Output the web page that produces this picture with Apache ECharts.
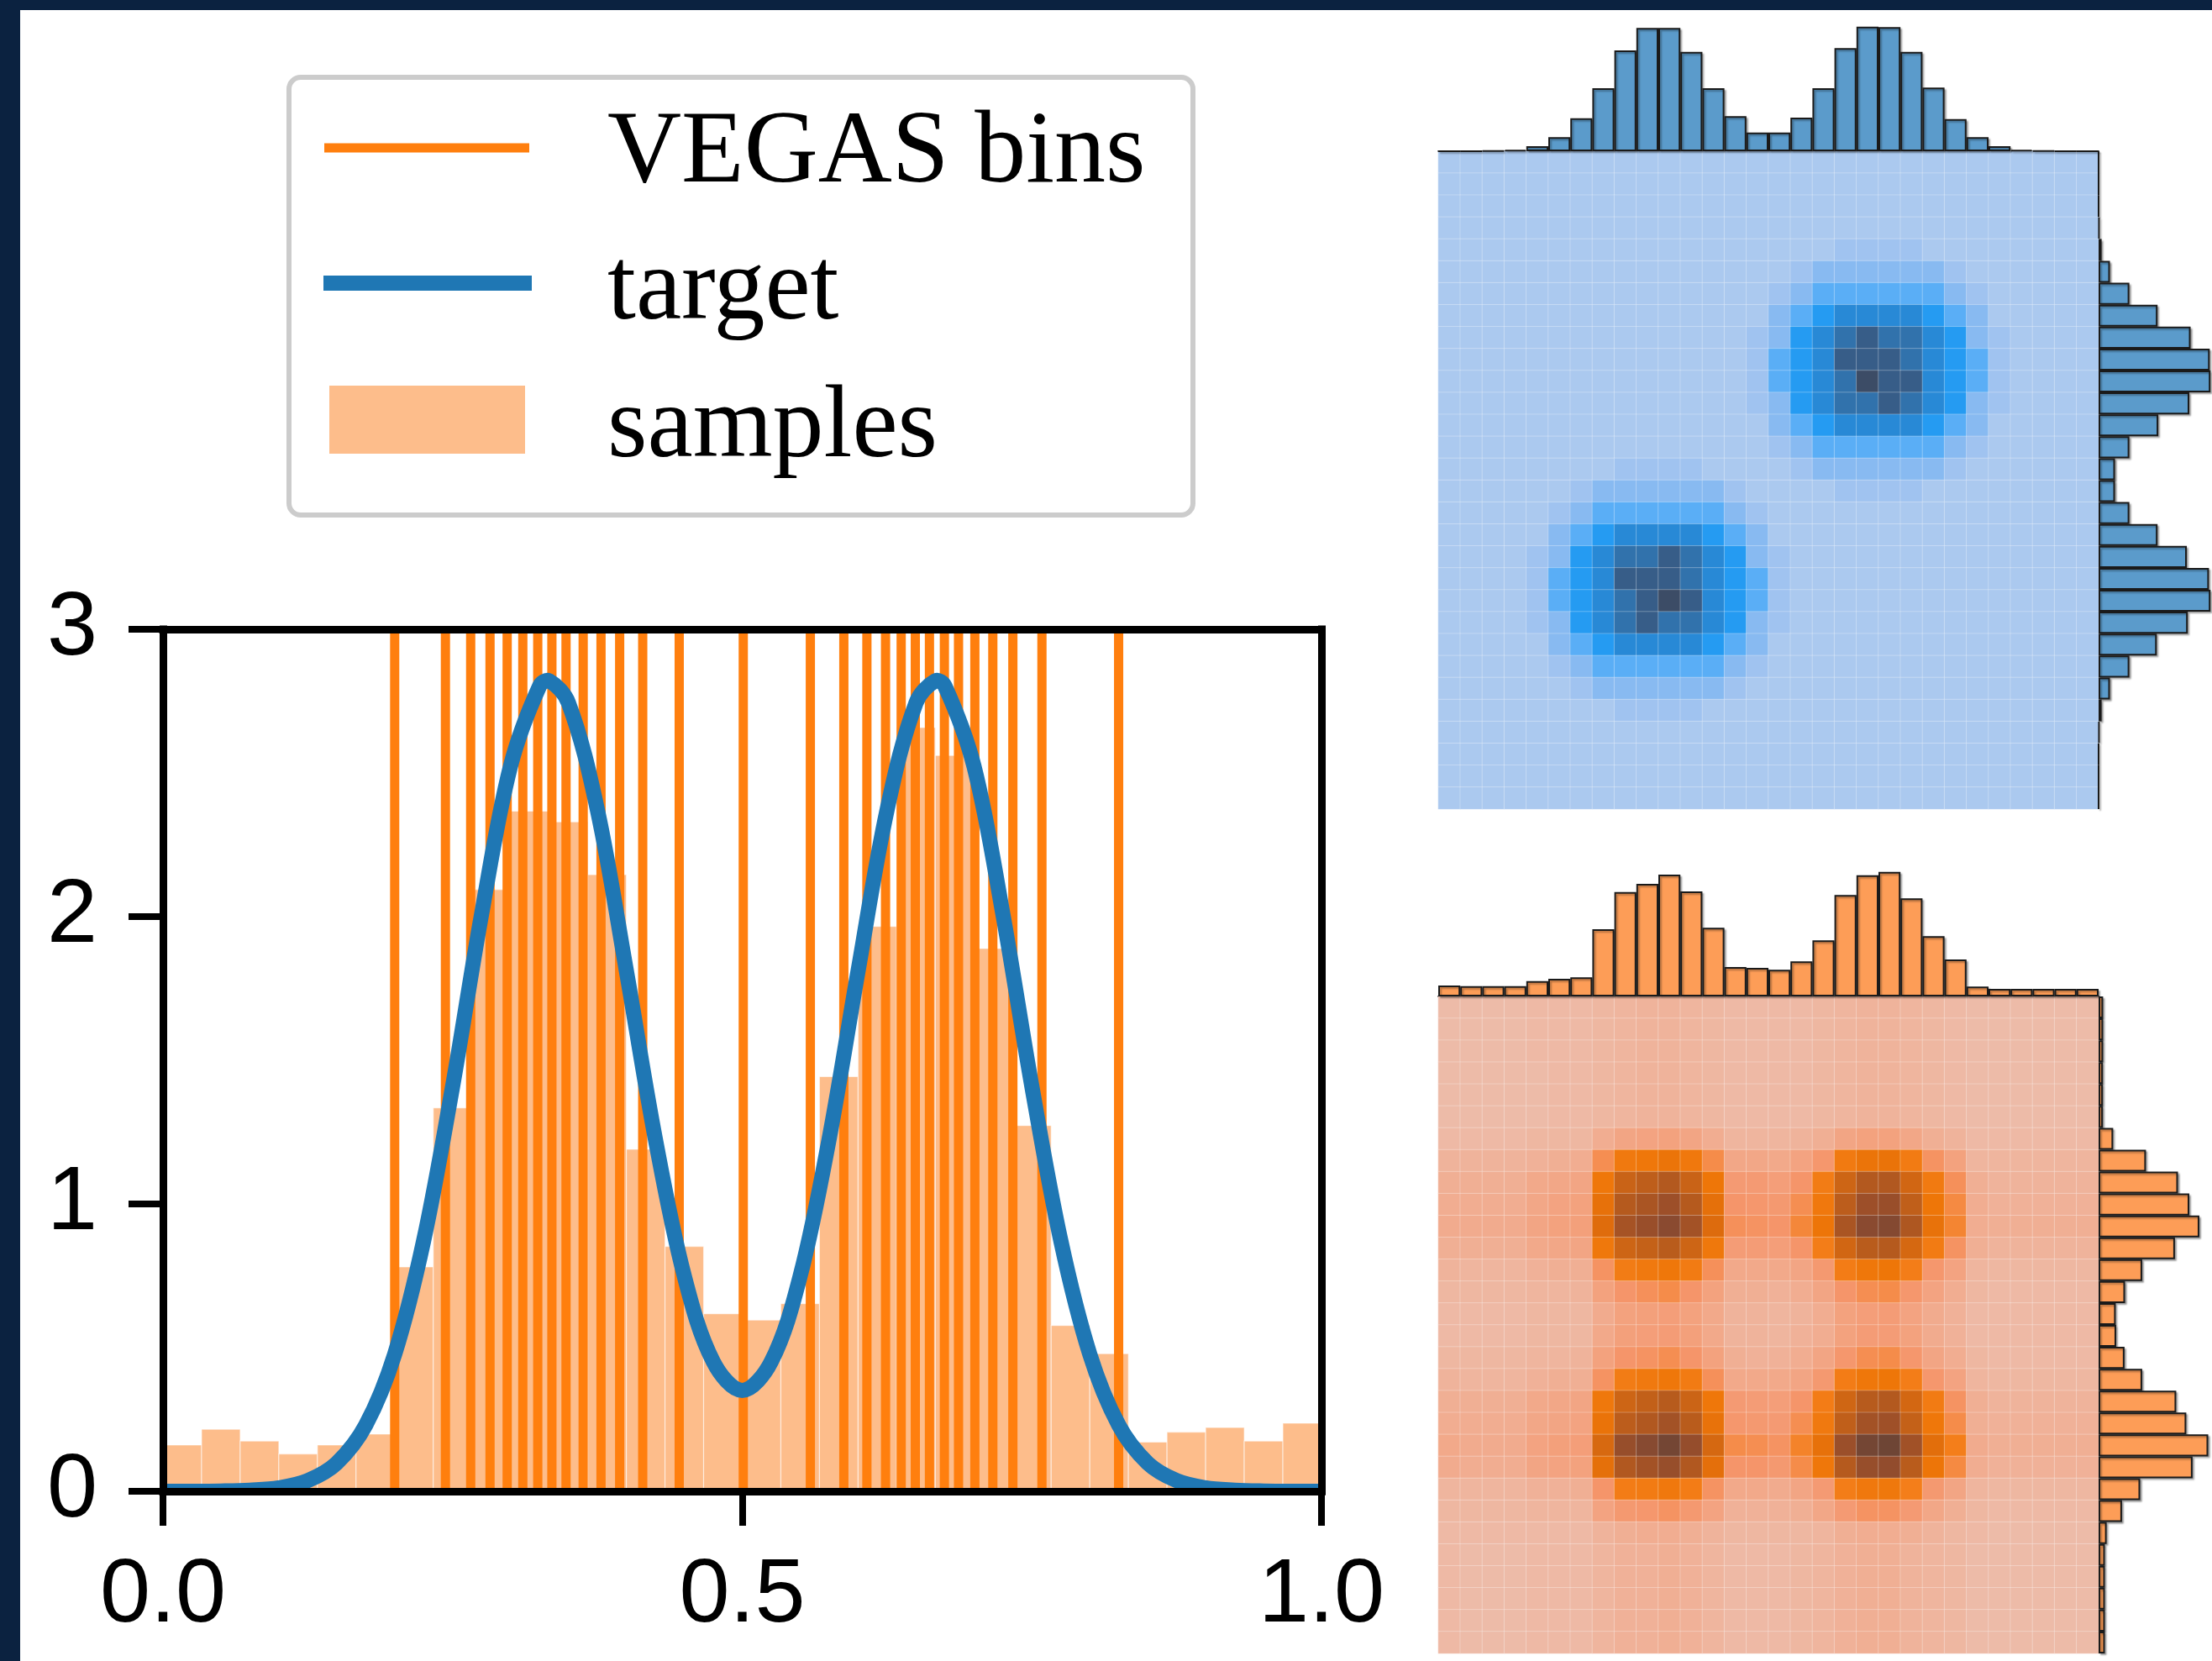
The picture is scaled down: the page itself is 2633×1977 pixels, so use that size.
<!DOCTYPE html>
<html>
<head>
<meta charset="utf-8">
<script src="https://cdn.jsdelivr.net/npm/echarts@6/dist/echarts.min.js"></script>
<style>
html,body{margin:0;padding:0;background:#ffffff;}
#c{width:2633px;height:1977px;}
</style>
</head>
<body>
<div id="c"></div>
<script>
// ---------------- data ----------------
const xTickLabels = ['0.0', '0.5', '1.0'];
const yTickLabels = ['0', '1', '2', '3'];
const legendNames = ['VEGAS bins', 'target', 'samples'];

// VEGAS grid edges (orange vertical lines)
const vegasEdges = [0.2000, 0.2438, 0.2656, 0.2823, 0.2971, 0.3106, 0.3235, 0.3357, 0.3479, 0.3627,
  0.3781, 0.3942, 0.4141, 0.4456, 0.5009, 0.5588, 0.5877, 0.6076, 0.6237, 0.6372,
  0.6494, 0.6616, 0.6745, 0.6867, 0.7008, 0.7163, 0.7336, 0.7587, 0.8249];

// samples histogram: 30 equal bins on [0,1]
const sampleBinCount = 30;
const sampleHeights = [0.161, 0.216, 0.175, 0.130, 0.161, 0.199, 0.781, 1.334, 2.094, 2.367,
  2.330, 2.146, 1.190, 0.852, 0.618, 0.596, 0.653, 1.443, 1.966, 2.658,
  2.561, 1.889, 1.273, 0.577, 0.479, 0.171, 0.206, 0.222, 0.175, 0.237];

// target density curve
const targetX = [0, 0.025, 0.05, 0.075, 0.1, 0.125, 0.15, 0.175, 0.2, 0.225, 0.25, 0.275, 0.3, 0.325, 0.3333,
  0.35, 0.375, 0.4, 0.425, 0.45, 0.475, 0.5, 0.525, 0.55, 0.575, 0.6, 0.625, 0.65, 0.6667, 0.675,
  0.7, 0.725, 0.75, 0.775, 0.8, 0.825, 0.85, 0.875, 0.9, 0.925, 0.95, 0.975, 1];
const targetY = [0, 0, 0.001, 0.004, 0.012, 0.037, 0.098, 0.23, 0.477, 0.872, 1.409, 2.008, 2.524, 2.802, 2.821,
  2.744, 2.371, 1.811, 1.226, 0.749, 0.451, 0.351, 0.451, 0.749, 1.226, 1.811, 2.371, 2.744, 2.821, 2.802,
  2.524, 2.008, 1.409, 0.872, 0.477, 0.23, 0.098, 0.037, 0.012, 0.004, 0.001, 0, 0];

// top-right panel (target, blue): marginal histograms (30 bins) and 30x30 heat levels (row 0 = top)
const blueTopHist = [0, 0, 0.7, 1.7, 6, 16.7, 39.3, 75, 120, 146.7, 146.7, 118.3, 75, 41.7, 22.3,
  22.3, 40, 75, 122.7, 148.3, 147.7, 118.3, 75.7, 38.3, 16.7, 6, 1.7, 0.7, 0, 0];
const blueRightHist = [0, 0, 0, 1, 4, 15, 40.7, 78, 121.7, 147, 148, 120, 79, 40.7, 21.7,
  21.7, 40.7, 78, 116.7, 146, 148, 118, 77, 40.7, 15, 4, 1, 0, 0, 0];
const blueHeat = [
  [0,0,0,0,0,0,0,0,0,0,0,0,0,0,0,0,0,0,0,0,0,0,0,0,0,0,0,0,0,0],
  [0,0,0,0,0,0,0,0,0,0,0,0,0,0,0,0,0,0,0,0,0,0,0,0,0,0,0,0,0,0],
  [0,0,0,0,0,0,0,0,0,0,0,0,0,0,0,0,0,0,0,0,0,0,0,0,0,0,0,0,0,0],
  [0,0,0,0,0,0,0,0,0,0,0,0,0,0,0,0,0,0,0,0,0,0,0,0,0,0,0,0,0,0],
  [0,0,0,0,0,0,0,0,0,0,0,0,0,0,0,0,0,0,1,1,1,1,0,0,0,0,0,0,0,0],
  [0,0,0,0,0,0,0,0,0,0,0,0,0,0,0,0,1,2,2,2,2,2,2,1,0,0,0,0,0,0],
  [0,0,0,0,0,0,0,0,0,0,0,0,0,0,0,1,2,3,3,3,3,3,3,2,1,0,0,0,0,0],
  [0,0,0,0,0,0,0,0,0,0,0,0,0,0,0,2,3,4,5,5,5,5,4,3,2,0,0,0,0,0],
  [0,0,0,0,0,0,0,0,0,0,0,0,0,0,1,2,4,5,6,7,6,6,5,4,2,1,0,0,0,0],
  [0,0,0,0,0,0,0,0,0,0,0,0,0,0,1,3,4,5,7,7,7,6,5,4,3,1,0,0,0,0],
  [0,0,0,0,0,0,0,0,0,0,0,0,0,0,1,3,4,5,6,8,7,7,5,4,3,1,0,0,0,0],
  [0,0,0,0,0,0,0,0,0,0,0,0,0,0,1,2,4,5,6,6,7,6,5,4,2,1,0,0,0,0],
  [0,0,0,0,0,0,0,0,0,0,0,0,0,0,0,2,3,4,5,5,5,5,4,3,2,0,0,0,0,0],
  [0,0,0,0,0,0,0,0,0,0,0,0,0,0,0,1,2,3,3,3,3,3,3,2,1,0,0,0,0,0],
  [0,0,0,0,0,0,0,0,1,1,1,1,0,0,0,0,1,2,2,2,2,2,2,1,0,0,0,0,0,0],
  [0,0,0,0,0,0,1,2,2,2,2,2,2,1,0,0,0,0,1,1,1,1,0,0,0,0,0,0,0,0],
  [0,0,0,0,0,1,2,3,3,3,3,3,3,2,1,0,0,0,0,0,0,0,0,0,0,0,0,0,0,0],
  [0,0,0,0,0,2,3,4,5,5,5,5,4,3,2,0,0,0,0,0,0,0,0,0,0,0,0,0,0,0],
  [0,0,0,0,1,2,4,5,6,6,7,6,5,4,2,1,0,0,0,0,0,0,0,0,0,0,0,0,0,0],
  [0,0,0,0,1,3,4,5,7,7,7,6,5,4,3,1,0,0,0,0,0,0,0,0,0,0,0,0,0,0],
  [0,0,0,0,1,3,4,5,6,7,8,7,5,4,3,1,0,0,0,0,0,0,0,0,0,0,0,0,0,0],
  [0,0,0,0,1,2,4,5,6,7,6,6,5,4,2,1,0,0,0,0,0,0,0,0,0,0,0,0,0,0],
  [0,0,0,0,0,2,3,4,5,5,5,5,4,3,2,0,0,0,0,0,0,0,0,0,0,0,0,0,0,0],
  [0,0,0,0,0,1,2,3,3,3,3,3,3,2,1,0,0,0,0,0,0,0,0,0,0,0,0,0,0,0],
  [0,0,0,0,0,0,1,2,2,2,2,2,2,1,0,0,0,0,0,0,0,0,0,0,0,0,0,0,0,0],
  [0,0,0,0,0,0,0,0,1,1,1,1,0,0,0,0,0,0,0,0,0,0,0,0,0,0,0,0,0,0],
  [0,0,0,0,0,0,0,0,0,0,0,0,0,0,0,0,0,0,0,0,0,0,0,0,0,0,0,0,0,0],
  [0,0,0,0,0,0,0,0,0,0,0,0,0,0,0,0,0,0,0,0,0,0,0,0,0,0,0,0,0,0],
  [0,0,0,0,0,0,0,0,0,0,0,0,0,0,0,0,0,0,0,0,0,0,0,0,0,0,0,0,0,0],
  [0,0,0,0,0,0,0,0,0,0,0,0,0,0,0,0,0,0,0,0,0,0,0,0,0,0,0,0,0,0]
];

// bottom-right panel (samples, orange)
const orangeTopHist = [13, 12.3, 12.3, 12.3, 18.3, 21, 22.7, 80, 124.3, 134, 145, 125, 81.7, 35, 34,
  31.7, 41.7, 66.7, 120.7, 144.3, 148.3, 116.7, 71.7, 44, 11.7, 9, 9, 9, 9, 9];
const orangeRightHist = [6, 6, 6, 5.7, 5.7, 5.7, 19.3, 62.7, 105, 120, 133.3, 101, 57.7, 35, 22.7,
  23.3, 34.3, 57.7, 102.7, 116, 145, 124.3, 55, 31, 10.7, 8.3, 8.3, 8.3, 8.3, 8.3];
const orangeHeat = [
  [0,0,0,0,1,1,1,2,3,4,4,3,2,1,1,1,1,2,3,4,4,3,2,1,0,0,0,0,0,0],
  [0,0,0,0,1,1,1,2,3,4,4,3,2,1,1,1,1,2,3,4,4,3,2,1,0,0,0,0,0,0],
  [0,0,0,0,1,1,1,2,3,4,4,3,2,1,1,1,1,2,3,4,4,3,2,1,0,0,0,0,0,0],
  [0,0,0,0,0,1,1,2,3,4,4,3,2,1,1,1,1,2,3,4,4,3,2,1,0,0,0,0,0,0],
  [0,0,0,0,0,1,1,2,3,4,4,3,2,1,1,1,1,2,3,4,4,3,2,1,0,0,0,0,0,0],
  [0,0,0,0,0,1,1,2,3,4,4,3,2,1,1,1,1,2,3,4,4,3,2,1,0,0,0,0,0,0],
  [1,1,1,1,2,2,2,7,11,12,13,11,7,3,3,3,4,6,11,13,13,10,6,4,1,1,1,1,1,1],
  [4,4,4,4,5,6,7,23,36,39,42,37,24,10,10,9,12,19,35,42,43,34,21,13,3,3,3,3,3,3],
  [6,6,6,6,9,10,11,39,61,66,71,61,40,17,17,15,20,33,59,71,72,57,35,22,6,4,4,4,4,4],
  [7,7,7,7,10,12,13,45,70,75,81,70,46,20,19,18,23,37,67,81,83,65,40,25,7,5,5,5,5,5],
  [8,8,8,8,11,13,14,50,77,83,90,78,51,22,21,20,26,41,75,90,92,73,44,27,7,6,6,6,6,6],
  [6,6,6,6,9,10,11,38,59,63,68,59,38,16,16,15,20,31,57,68,70,55,34,21,6,4,4,4,4,4],
  [4,3,3,3,5,6,6,21,33,36,39,34,22,9,9,9,11,18,32,39,40,31,19,12,3,2,2,2,2,2],
  [2,2,2,2,3,3,4,13,20,22,24,20,13,6,6,5,7,11,20,23,24,19,12,7,2,1,1,1,1,1],
  [1,1,1,1,2,2,2,8,13,14,15,13,9,4,4,3,4,7,13,15,16,12,8,5,1,1,1,1,1,1],
  [1,1,1,1,2,2,2,9,14,15,16,14,9,4,4,3,5,7,13,16,16,13,8,5,1,1,1,1,1,1],
  [2,2,2,2,3,3,4,13,20,21,23,20,13,6,5,5,7,11,19,23,24,19,11,7,2,1,1,1,1,1],
  [4,3,3,3,5,6,6,21,33,36,39,34,22,9,9,9,11,18,32,39,40,31,19,12,3,2,2,2,2,2],
  [6,6,6,6,9,10,11,38,59,64,69,60,39,17,16,15,20,32,58,69,71,56,34,21,6,4,4,4,4,4],
  [7,7,7,7,10,11,12,43,67,72,78,68,44,19,18,17,23,36,65,78,80,63,39,24,6,5,5,5,5,5],
  [9,8,8,8,12,14,15,54,84,91,98,85,55,24,23,21,28,45,82,98,100,79,48,30,8,6,6,6,6,6],
  [8,7,7,7,11,12,13,46,72,78,84,72,47,20,20,18,24,39,70,84,86,68,41,25,7,5,5,5,5,5],
  [3,3,3,3,5,5,6,20,32,34,37,32,21,9,9,8,11,17,31,37,38,30,18,11,3,2,2,2,2,2],
  [2,2,2,2,3,3,3,12,18,19,21,18,12,5,5,5,6,10,17,21,21,17,10,6,2,1,1,1,1,1],
  [1,1,1,1,1,1,1,4,6,7,7,6,4,2,2,2,2,3,6,7,7,6,4,2,1,0,0,0,0,0],
  [1,0,0,0,1,1,1,3,5,5,6,5,3,1,1,1,2,3,5,6,6,4,3,2,0,0,0,0,0,0],
  [1,0,0,0,1,1,1,3,5,5,6,5,3,1,1,1,2,3,5,6,6,4,3,2,0,0,0,0,0,0],
  [1,0,0,0,1,1,1,3,5,5,6,5,3,1,1,1,2,3,5,6,6,4,3,2,0,0,0,0,0,0],
  [1,0,0,0,1,1,1,3,5,5,6,5,3,1,1,1,2,3,5,6,6,4,3,2,0,0,0,0,0,0],
  [1,0,0,0,1,1,1,3,5,5,6,5,3,1,1,1,2,3,5,6,6,4,3,2,0,0,0,0,0,0]
];

// ---------------- styles ----------------
const C_ORANGE = '#ff7f0e';
const C_BLUE = '#1f77b4';
const C_SAMPLE = '#fdbd8b';
const BLUE_BAR = '#5b9bcb';
const ORANGE_BAR = '#fd9d57';
const NAVY = '#0b2240';
const blueLevels = ['#abc9ef', '#a0c3f0', '#88baf1', '#5aaef6', '#259bf2', '#2889d6', '#3172ac', '#375d88', '#3c4c66'];
const orangeLevels = ['#edbba8', '#f2a787', '#f5956a', '#f47e1a', '#ee7608', '#df6c0c', '#cb6416', '#b55a1e', '#9f5028', '#8a4a30', '#6e4535'];

const cats = blueTopHist.map((_, i) => String(i));
function heatData(m) {
  const out = [];
  m.forEach((row, r) => row.forEach((v, c) => out.push([c, r, v])));
  return out;
}

const spine = {color: '#000', width: 9, cap: 'square'};
const hiddenCat = (grid, inverse) => ({type: 'category', gridIndex: grid, data: cats, show: false, inverse: !!inverse, boundaryGap: true});
const margBaseCat = (grid) => ({type: 'category', gridIndex: grid, data: cats, boundaryGap: true,
  axisLine: {show: true, lineStyle: {color: '#1a1a1a', width: 2}}, axisTick: {show: false}, axisLabel: {show: false}, splitLine: {show: false}});
const hiddenVal = (grid) => ({type: 'value', gridIndex: grid, min: 0, max: 150, show: false, splitLine: {show: false}});

const barStyle = (col) => ({color: col, borderColor: '#1a1a1a', borderWidth: 2,
  shadowColor: 'rgba(0,0,0,0.3)', shadowBlur: 2, shadowOffsetX: 2, shadowOffsetY: 2});

const option = {
  animation: false,
  backgroundColor: '#ffffff',
  grid: [
    {left: 194, top: 749, width: 1379, height: 1026},   // 0 main
    {left: 1712, top: 180, width: 786, height: 783},    // 1 blue heat
    {left: 1712, top: 30, width: 786, height: 150},     // 2 blue top marginal
    {left: 2498, top: 180, width: 150, height: 783},    // 3 blue right marginal
    {left: 1712, top: 1186, width: 786, height: 782},   // 4 orange heat
    {left: 1712, top: 1036, width: 786, height: 150},   // 5 orange top marginal
    {left: 2498, top: 1186, width: 150, height: 782}    // 6 orange right marginal
  ],
  xAxis: [
    {type: 'value', gridIndex: 0, min: 0, max: 1, interval: 0.5, position: 'bottom', z: 10,
      axisLine: {show: true, onZero: false, lineStyle: spine},
      axisTick: {show: true, inside: false, length: 41, lineStyle: {color: '#000', width: 8}},
      axisLabel: {show: true, margin: 71, fontSize: 108, fontFamily: 'Liberation Sans', color: '#000',
        formatter: (v) => xTickLabels[Math.round(v / 0.5)]},
      splitLine: {show: false}},
    {type: 'value', gridIndex: 0, min: 0, max: 1, position: 'top', z: 10,
      axisLine: {show: true, onZero: false, lineStyle: spine},
      axisTick: {show: false}, axisLabel: {show: false}, splitLine: {show: false}},
    hiddenCat(1),
    margBaseCat(2),
    hiddenVal(3),
    hiddenCat(4),
    margBaseCat(5),
    hiddenVal(6)
  ],
  yAxis: [
    {type: 'value', gridIndex: 0, min: 0, max: 3, interval: 1, position: 'left', z: 10,
      axisLine: {show: true, onZero: false, lineStyle: spine},
      axisTick: {show: true, inside: false, length: 41, lineStyle: {color: '#000', width: 8}},
      axisLabel: {show: true, margin: 78, fontSize: 108, fontFamily: 'Liberation Sans', color: '#000',
        formatter: (v) => yTickLabels[Math.round(v)]},
      splitLine: {show: false}},
    {type: 'value', gridIndex: 0, min: 0, max: 3, position: 'right', z: 10,
      axisLine: {show: true, onZero: false, lineStyle: spine},
      axisTick: {show: false}, axisLabel: {show: false}, splitLine: {show: false}},
    hiddenCat(1, true),
    hiddenVal(2),
    hiddenCat(3, true),
    hiddenCat(4, true),
    hiddenVal(5),
    hiddenCat(6, true)
  ],
  visualMap: [
    {type: 'continuous', seriesIndex: 3, min: 0, max: 8, show: false, inRange: {color: blueLevels}},
    {type: 'continuous', seriesIndex: 6, min: 0, max: 100, show: false, inRange: {color: orangeLevels}}
  ],
  series: [
    { // 0 samples histogram
      name: legendNames[2], type: 'custom', xAxisIndex: 0, yAxisIndex: 0, z: 1, clip: true,
      data: sampleHeights.map((h, i) => [i / sampleBinCount, (i + 1) / sampleBinCount, h]),
      encode: {x: [0, 1], y: 2},
      renderItem: (params, api) => {
        const p0 = api.coord([api.value(0), api.value(2)]);
        const p1 = api.coord([api.value(1), 0]);
        return {type: 'rect', shape: {x: p0[0], y: p0[1], width: p1[0] - p0[0], height: p1[1] - p0[1]},
          style: {fill: C_SAMPLE, stroke: 'rgba(255,255,255,0.55)', lineWidth: 1.2}};
      }
    },
    { // 1 VEGAS bins
      name: legendNames[0], type: 'custom', xAxisIndex: 0, yAxisIndex: 0, z: 2, clip: true,
      data: vegasEdges.map((x) => [x]),
      encode: {x: 0},
      renderItem: (params, api) => {
        const a = api.coord([api.value(0), 0]);
        const b = api.coord([api.value(0), 3]);
        return {type: 'line', shape: {x1: a[0], y1: a[1], x2: b[0], y2: b[1]},
          style: {stroke: C_ORANGE, lineWidth: 11}};
      }
    },
    { // 2 target (one smooth polyline through the data, clipped exactly to the plot area)
      name: legendNames[1], type: 'custom', xAxisIndex: 0, yAxisIndex: 0, z: 3, clip: true,
      data: targetX.map((x, i) => [x, targetY[i]]),
      encode: {x: 0, y: 1},
      renderItem: (params, api) => {
        if (params.dataIndex !== 0) return null;
        const pts = targetX.map((x, i) => api.coord([x, targetY[i]]));
        return {type: 'polyline', shape: {points: pts, smooth: 0.35},
          style: {stroke: C_BLUE, lineWidth: 18, fill: null, lineJoin: 'round', lineCap: 'butt'}};
      }
    },
    { // 3 blue heatmap
      type: 'heatmap', xAxisIndex: 2, yAxisIndex: 2, data: heatData(blueHeat),
      itemStyle: {borderColor: 'rgba(255,255,255,0.28)', borderWidth: 1},
      emphasis: {disabled: true}
    },
    { // 4 blue top marginal
      type: 'bar', xAxisIndex: 3, yAxisIndex: 3, data: blueTopHist, barCategoryGap: '0%', barGap: '0%',
      itemStyle: barStyle(BLUE_BAR)
    },
    { // 5 blue right marginal
      type: 'bar', xAxisIndex: 4, yAxisIndex: 4, data: blueRightHist, barCategoryGap: '0%', barGap: '0%',
      itemStyle: barStyle(BLUE_BAR)
    },
    { // 6 orange heatmap
      type: 'heatmap', xAxisIndex: 5, yAxisIndex: 5, data: heatData(orangeHeat),
      itemStyle: {borderColor: 'rgba(255,255,255,0.28)', borderWidth: 1},
      emphasis: {disabled: true}
    },
    { // 7 orange top marginal
      type: 'bar', xAxisIndex: 6, yAxisIndex: 6, data: orangeTopHist, barCategoryGap: '0%', barGap: '0%',
      itemStyle: barStyle(ORANGE_BAR)
    },
    { // 8 orange right marginal
      type: 'bar', xAxisIndex: 7, yAxisIndex: 7, data: orangeRightHist, barCategoryGap: '0%', barGap: '0%',
      itemStyle: barStyle(ORANGE_BAR)
    }
  ],
  graphic: {elements: [
    // screenshot frame
    {type: 'rect', z: 100, shape: {x: 0, y: 0, width: 2633, height: 12}, style: {fill: NAVY}},
    {type: 'rect', z: 100, shape: {x: 0, y: 0, width: 24, height: 1977}, style: {fill: NAVY}},
    // legend box
    {type: 'rect', z: 50, shape: {x: 344, y: 92, width: 1076, height: 521, r: 14},
      style: {fill: '#ffffff', stroke: '#cccccc', lineWidth: 6}},
    {type: 'line', z: 51, shape: {x1: 386, y1: 176, x2: 630, y2: 176}, style: {stroke: C_ORANGE, lineWidth: 11}},
    {type: 'line', z: 51, shape: {x1: 385, y1: 337, x2: 633, y2: 337}, style: {stroke: C_BLUE, lineWidth: 18}},
    {type: 'rect', z: 51, shape: {x: 392, y: 459, width: 233, height: 81}, style: {fill: C_SAMPLE}},
    {type: 'text', z: 51, x: 723, y: 184, style: {text: legendNames[0], font: '122px "Liberation Serif"', fill: '#000',
      align: 'left', verticalAlign: 'middle', textAlign: 'left', textVerticalAlign: 'middle'}},
    {type: 'text', z: 51, x: 723, y: 347, style: {text: legendNames[1], font: '122px "Liberation Serif"', fill: '#000',
      align: 'left', verticalAlign: 'middle', textAlign: 'left', textVerticalAlign: 'middle'}},
    {type: 'text', z: 51, x: 723, y: 511, style: {text: legendNames[2], font: '122px "Liberation Serif"', fill: '#000',
      align: 'left', verticalAlign: 'middle', textAlign: 'left', textVerticalAlign: 'middle'}}
  ]}
};

const chart = echarts.init(document.getElementById('c'), null, {renderer: 'canvas', width: 2633, height: 1977});
chart.setOption(option);
</script>
</body>
</html>
